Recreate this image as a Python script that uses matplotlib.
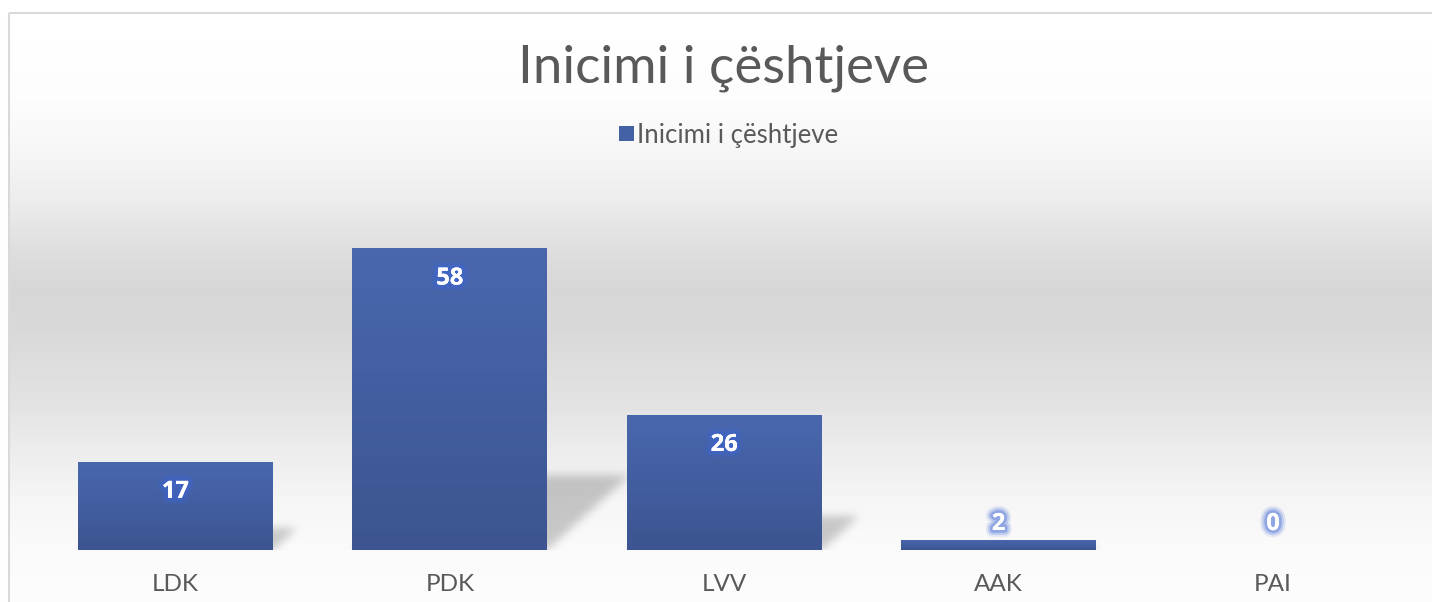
import numpy as np
import matplotlib.pyplot as plt
import matplotlib.patheffects as pe
from matplotlib.colors import LinearSegmentedColormap
from matplotlib.patches import Rectangle
from matplotlib.path import Path

# data
categories = ["LDK", "PDK", "LVV", "AAK", "PAI"]
values = [17, 58, 26, 2, 0]
series_name = "Inicimi i çështjeve"
title = "Inicimi i çështjeve"

W, H = 1432, 602
fig = plt.figure(figsize=(W / 100, H / 100), dpi=100)

# background gradient (whole figure)
bg = fig.add_axes([0, 0, 1, 1], zorder=-10)
rows = np.arange(H)
gray = np.interp(rows, [13, 100, 150, 200, 250, 290, 330, 400, 450, 500, 550, 602],
                 [255, 252, 246, 236, 222, 214, 216, 226, 236, 245, 250, 252]) / 255
img = np.repeat(gray[:, None], W, axis=1)
img[:13, :] = 1.0
img[:, :9] = 1.0
bg.imshow(img, cmap="gray", vmin=0, vmax=1, extent=(0, W, H, 0), aspect="auto")
bg.add_patch(Rectangle((9, 13), W, H, fill=False, edgecolor="#d9d9d9", linewidth=1.5))
bg.set_xlim(0, W)
bg.set_ylim(H, 0)
bg.axis("off")

# main axes
left, right = 38.25 / W, 1410.25 / W
bottom, top = (H - 550) / H, (H - 186) / H
ax = fig.add_axes([left, bottom, right - left, top - bottom])
ax.patch.set_alpha(0)
x = np.arange(len(categories))
bw = 0.71
ax.set_xlim(-0.5, len(categories) - 0.5)
ax.set_ylim(0, 70)

bars = ax.bar(x, values, width=bw, color="none", zorder=3)

# soft perspective shadows, rasterised and blurred on the background axes
yy, xx = np.mgrid[0:H, 0:W]
pix = np.column_stack([xx.ravel() + 0.5, (H - yy.ravel()) - 0.5])
mask = np.zeros(H * W)
for xi, v in zip(x, values):
    if v <= 0:
        continue
    dy = 0.25 * v
    dx = 0.0052 * v
    pts = [(xi - bw / 2, 0), (xi + bw / 2, 0),
           (xi + bw / 2 + dx, dy), (xi - bw / 2 + dx, dy)]
    disp = ax.transData.transform(pts)
    mask = np.maximum(mask, Path(disp).contains_points(pix))
mask = mask.reshape(H, W).astype(float)
k = np.exp(-0.5 * (np.arange(-12, 13) / 4.5) ** 2)
k /= k.sum()
mask = np.apply_along_axis(lambda r: np.convolve(r, k, mode="same"), 1, mask)
mask = np.apply_along_axis(lambda c: np.convolve(c, k, mode="same"), 0, mask)
mask[550:, :] = 0
shadow = np.zeros((H, W, 4))
shadow[..., 3] = mask * 0.2
bg.imshow(shadow, extent=(0, W, H, 0), aspect="auto", zorder=2)
bg.set_xlim(0, W)
bg.set_ylim(H, 0)

# gradient fill for bars
cmap = LinearSegmentedColormap.from_list("bar", ["#3c5591", "#4a67ae"])
grad = np.linspace(0, 1, 100)[:, None]
for rect, v in zip(bars, values):
    if v <= 0:
        continue
    x0 = rect.get_x()
    im = ax.imshow(grad, cmap=cmap, origin="lower", aspect="auto",
                   extent=(x0, x0 + rect.get_width(), 0, v), zorder=3)
    im.set_clip_path(rect)
ax.set_xlim(-0.5, len(categories) - 0.5)
ax.set_ylim(0, 70)

# data labels with soft glow
glow = [pe.withStroke(linewidth=10, foreground="#3d66d6", alpha=0.12),
        pe.withStroke(linewidth=7, foreground="#3d66d6", alpha=0.22),
        pe.withStroke(linewidth=4, foreground="#3d66d6", alpha=0.35),
        pe.Normal()]
for xi, v in zip(x, values):
    ypos = max(v - 5.8, 5.0)
    ax.text(xi, ypos, str(v), ha="center", va="center", color="white",
            fontsize=17, fontweight="bold", family="Open Sans",
            path_effects=glow, zorder=5)

ax.set_xticks(x)
ax.set_xticklabels(categories, fontsize=17.5, color="#595959", family="Lato")
ax.tick_params(axis="x", length=0, pad=17)
ax.set_yticks([])
for sp in ax.spines.values():
    sp.set_visible(False)

fig.text(723 / W, 1 - 68 / H, title, ha="center", va="center",
         fontsize=38, color="#595959", family="Lato")

handle = Rectangle((0, 0), 1, 1, facecolor="#4461a6")
fig.legend([handle], [series_name], loc="center", bbox_to_anchor=(729 / W, 1 - 135 / H),
           frameon=False, prop={"family": "Lato", "size": 18.5}, labelcolor="#595959",
           handlelength=0.55, handleheight=0.55, handletextpad=0.15)

fig.savefig("out.png", dpi=100)
